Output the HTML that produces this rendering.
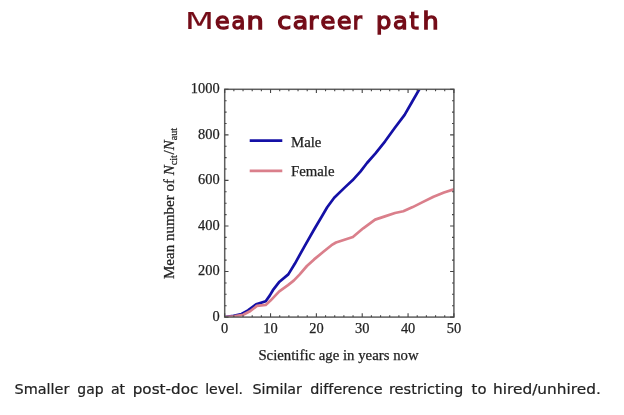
<!DOCTYPE html>
<html><head><meta charset="utf-8"><style>
html,body{margin:0;padding:0;background:#fff;}
body{width:624px;height:415px;overflow:hidden;position:relative;}
svg{position:absolute;left:0;top:0;will-change:transform;}
.t{font-family:"Liberation Serif",serif;font-size:14.8px;fill:#222;stroke:#222;stroke-width:0.25px;}
.tk{font-size:14.4px;}
.title{font-family:"DejaVu Sans",sans-serif;font-size:23px;fill:#740c18;stroke:#740c18;stroke-width:1.3px;}
.cap{font-family:"DejaVu Sans",sans-serif;font-size:13.5px;fill:#222;stroke:#222;stroke-width:0.2px;font-variant-ligatures:none;}
</style></head><body>
<svg width="624" height="415" viewBox="0 0 624 415">
<g class="title"><text x="185.02" y="29.4" textLength="28.96" lengthAdjust="spacingAndGlyphs" style="stroke-width:0.15px">M</text><text x="215.12" y="29.4" textLength="14.66" lengthAdjust="spacingAndGlyphs">e</text><text x="231.56" y="29.4" textLength="13.87" lengthAdjust="spacingAndGlyphs">a</text><text x="246.53" y="29.4" textLength="17.25" lengthAdjust="spacingAndGlyphs">n</text><text x="277.27" y="29.4" textLength="14.04" lengthAdjust="spacingAndGlyphs">c</text><text x="292.88" y="29.4" textLength="15.4" lengthAdjust="spacingAndGlyphs">a</text><text x="308.21" y="29.4" textLength="10.03" lengthAdjust="spacingAndGlyphs">r</text><text x="320.51" y="29.4" textLength="14.88" lengthAdjust="spacingAndGlyphs">e</text><text x="336.93" y="29.4" textLength="14.54" lengthAdjust="spacingAndGlyphs">e</text><text x="352.75" y="29.4" textLength="9.13" lengthAdjust="spacingAndGlyphs">r</text><text x="375.93" y="29.4" textLength="15.31" lengthAdjust="spacingAndGlyphs">p</text><text x="393.02" y="29.4" textLength="14.7" lengthAdjust="spacingAndGlyphs">a</text><text x="409.5" y="29.4" textLength="9.13" lengthAdjust="spacingAndGlyphs">t</text><text x="422.44" y="29.4" textLength="16.13" lengthAdjust="spacingAndGlyphs">h</text></g>
<defs><clipPath id="c"><rect x="224.7" y="89.3" width="229.2" height="227.8"/></clipPath></defs>
<g clip-path="url(#c)" fill="none" stroke-linejoin="round" stroke-linecap="round">
<polyline points="224.7,317.0 233.6,315.9 241.6,314.0 248.0,310.4 256.1,304.4 265.7,301.3 269.7,295.6 272.9,290.2 279.5,281.7 288.3,274.4 294.8,263.8 304.5,246.3 314.1,229.5 321.2,217.5 327.2,207.3 334.2,197.7 344.1,188.1 352.5,180.3 360.4,171.6 367.0,163.0 375.5,153.4 385.1,141.3 394.5,128.3 404.6,114.9 412.0,102.0 419.3,89.3" stroke="#1410a6" stroke-width="2.7"/>
<polyline points="224.7,317.0 233.6,316.3 243.2,314.8 250.4,311.0 256.9,305.9 265.7,304.9 270.5,300.6 279.3,291.4 288.0,285.1 293.7,280.6 299.5,274.6 306.9,266.0 314.1,259.4 323.7,251.5 331.5,245.2 336.0,242.5 343.7,240.0 352.9,237.0 363.2,228.3 375.1,219.6 384.9,216.4 395.0,213.0 403.3,211.3 412.7,207.1 422.1,202.4 433.5,196.7 444.0,192.5 453.8,189.4" stroke="#da7f8b" stroke-width="2.7"/>
</g>
<rect x="224.7" y="89.3" width="229.2" height="227.8" fill="none" stroke="#5e5e5e" stroke-width="1.5"/>
<path d="M224.70 317.1v-3.8M224.70 89.3v3.8M233.87 317.1v-1.9M233.87 89.3v1.9M243.04 317.1v-1.9M243.04 89.3v1.9M252.20 317.1v-1.9M252.20 89.3v1.9M261.37 317.1v-1.9M261.37 89.3v1.9M270.54 317.1v-3.8M270.54 89.3v3.8M279.71 317.1v-1.9M279.71 89.3v1.9M288.88 317.1v-1.9M288.88 89.3v1.9M298.04 317.1v-1.9M298.04 89.3v1.9M307.21 317.1v-1.9M307.21 89.3v1.9M316.38 317.1v-3.8M316.38 89.3v3.8M325.55 317.1v-1.9M325.55 89.3v1.9M334.72 317.1v-1.9M334.72 89.3v1.9M343.88 317.1v-1.9M343.88 89.3v1.9M353.05 317.1v-1.9M353.05 89.3v1.9M362.22 317.1v-3.8M362.22 89.3v3.8M371.39 317.1v-1.9M371.39 89.3v1.9M380.56 317.1v-1.9M380.56 89.3v1.9M389.72 317.1v-1.9M389.72 89.3v1.9M398.89 317.1v-1.9M398.89 89.3v1.9M408.06 317.1v-3.8M408.06 89.3v3.8M417.23 317.1v-1.9M417.23 89.3v1.9M426.40 317.1v-1.9M426.40 89.3v1.9M435.56 317.1v-1.9M435.56 89.3v1.9M444.73 317.1v-1.9M444.73 89.3v1.9M453.90 317.1v-3.8M453.90 89.3v3.8M224.7 317.10h3.8M453.9 317.10h-3.8M224.7 305.71h1.9M453.9 305.71h-1.9M224.7 294.32h1.9M453.9 294.32h-1.9M224.7 282.93h1.9M453.9 282.93h-1.9M224.7 271.54h3.8M453.9 271.54h-3.8M224.7 260.15h1.9M453.9 260.15h-1.9M224.7 248.76h1.9M453.9 248.76h-1.9M224.7 237.37h1.9M453.9 237.37h-1.9M224.7 225.98h3.8M453.9 225.98h-3.8M224.7 214.59h1.9M453.9 214.59h-1.9M224.7 203.20h1.9M453.9 203.20h-1.9M224.7 191.81h1.9M453.9 191.81h-1.9M224.7 180.42h3.8M453.9 180.42h-3.8M224.7 169.03h1.9M453.9 169.03h-1.9M224.7 157.64h1.9M453.9 157.64h-1.9M224.7 146.25h1.9M453.9 146.25h-1.9M224.7 134.86h3.8M453.9 134.86h-3.8M224.7 123.47h1.9M453.9 123.47h-1.9M224.7 112.08h1.9M453.9 112.08h-1.9M224.7 100.69h1.9M453.9 100.69h-1.9M224.7 89.30h3.8M453.9 89.30h-3.8" stroke="#444" stroke-width="1.1" fill="none"/>
<line x1="249.7" y1="140.6" x2="282.3" y2="140.6" stroke="#1410a6" stroke-width="2.8"/>
<line x1="249.7" y1="170.9" x2="282.3" y2="170.9" stroke="#da7f8b" stroke-width="2.9"/>
<g class="t">
<text x="291" y="146.6">Male</text>
<text x="291" y="176.3">Female</text>
<text class="tk" x="224.7" y="333.1" text-anchor="middle">0</text><text class="tk" x="270.5" y="333.1" text-anchor="middle">10</text><text class="tk" x="316.4" y="333.1" text-anchor="middle">20</text><text class="tk" x="362.2" y="333.1" text-anchor="middle">30</text><text class="tk" x="408.1" y="333.1" text-anchor="middle">40</text><text class="tk" x="453.9" y="333.1" text-anchor="middle">50</text>
<text class="tk" x="219.6" y="320.75" text-anchor="end">0</text><text class="tk" x="219.6" y="275.19" text-anchor="end">200</text><text class="tk" x="219.6" y="229.63" text-anchor="end">400</text><text class="tk" x="219.6" y="184.07" text-anchor="end">600</text><text class="tk" x="219.6" y="138.51" text-anchor="end">800</text><text class="tk" x="219.6" y="92.95" text-anchor="end">1000</text>
<text x="338.5" y="359.5" text-anchor="middle">Scientific age in years now</text>
<text transform="translate(173.8,203.4) rotate(-90)" text-anchor="middle" font-size="15">Mean number of <tspan font-style="italic">N</tspan><tspan font-size="10.2" dy="3">cit</tspan><tspan dx="0.6" dy="-3">/</tspan><tspan font-style="italic">N</tspan><tspan font-size="10.2" dy="3">aut</tspan></text>
</g>
<g class="cap"><text x="14.5" y="394.3" textLength="54.85" lengthAdjust="spacingAndGlyphs">Smaller</text><text x="77.33" y="394.3" textLength="26.16" lengthAdjust="spacingAndGlyphs">gap</text><text x="110.91" y="394.3" textLength="14.23" lengthAdjust="spacingAndGlyphs">at</text><text x="132.69" y="394.3" textLength="65.59" lengthAdjust="spacingAndGlyphs">post-doc</text><text x="205.2" y="394.3" textLength="37.86" lengthAdjust="spacingAndGlyphs">level.</text><text x="252.51" y="394.3" textLength="49.48" lengthAdjust="spacingAndGlyphs">Similar</text><text x="310.2" y="394.3" textLength="72.28" lengthAdjust="spacingAndGlyphs">difference</text><text x="388.95" y="394.3" textLength="74.26" lengthAdjust="spacingAndGlyphs">restricting</text><text x="471.63" y="394.3" textLength="14.89" lengthAdjust="spacingAndGlyphs">to</text><text x="493.08" y="394.3" textLength="107.73" lengthAdjust="spacingAndGlyphs">hired/unhired.</text></g>
</svg>
</body></html>
